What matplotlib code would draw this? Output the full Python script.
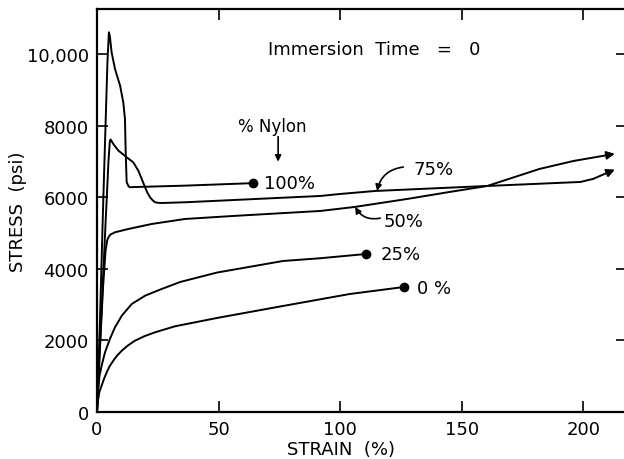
import matplotlib.pyplot as plt

# stress-strain curves (strain %, stress psi)
strain_100 = [0, 1.2, 2.2, 2.6, 3.5, 4.3, 4.9, 5.3, 6.0, 7.4, 9.5, 10.8, 11.5, 11.8, 12.2,
              13.0, 13.6, 15, 36, 64.2]
stress_100 = [0, 2500, 5000, 5958, 8000, 9800, 10620, 10500, 10062, 9594, 9127, 8662, 8195,
              7264, 6425, 6310, 6285, 6290, 6330, 6400]

strain_75 = [0, 1.5, 3.0, 3.6, 4.0, 4.7, 5.3, 5.6, 6.7, 8.8, 12.2, 14.9, 17.0, 18.4, 19.5,
             20.6, 21.8, 22.9, 23.9, 25.2, 26.6, 36.2, 91.8, 100, 114.4, 160.5, 198.8,
             204, 213]
stress_75 = [0, 2300, 4500, 5400, 5958, 7000, 7590, 7620, 7496, 7310, 7124, 6984, 6749,
             6517, 6330, 6150, 6005, 5920, 5865, 5850, 5845, 5865, 6041, 6097, 6181, 6321,
             6433, 6517, 6780]

strain_50 = [0, 1.0, 2.5, 3.5, 4.2, 4.7, 5.5, 7.4, 12.9, 22.5, 36.2, 56, 91.8, 106, 127.6,
             145, 160.5, 182, 196, 213]
stress_50 = [0, 1500, 3500, 4500, 4800, 4886, 4960, 5026, 5118, 5258, 5398, 5482, 5622,
             5734, 5958, 6153, 6321, 6797, 7020, 7220]

strain_25 = [0, 0.2, 0.5, 1.0, 1.9, 3.3, 5.3, 7.4, 10.2, 14.3, 19.8, 26.6, 34.2, 49.4,
             76.5, 91.8, 110.7]
stress_25 = [0, 250, 643, 1000, 1295, 1670, 2042, 2369, 2694, 3021, 3253, 3440, 3636,
             3900, 4223, 4300, 4419]

strain_0 = [0, 0.1, 0.5, 1.0, 1.9, 2.9, 4.0, 5.2, 6.7, 8.3, 10.2, 12.7, 15.6, 19.5, 23.9,
            32.1, 49.4, 76.5, 104, 126.3]
stress_0 = [0, 150, 364, 570, 736, 930, 1110, 1280, 1435, 1580, 1715, 1860, 1994, 2120,
            2229, 2397, 2630, 2965, 3300, 3496]

x_ticks = [0, 50, 100, 150, 200]
y_ticks = [0, 2000, 4000, 6000, 8000, 10000]
y_tick_labels = ['0', '2000', '4000', '6000', '8000', '10,000']

plt.rcParams['font.family'] = ['DejaVu Sans']

fig = plt.figure(figsize=(6.24, 4.60), dpi=100)
ax = fig.add_axes([97 / 624, 47 / 460, 530 / 624, 403 / 460])

lw = 1.4
ax.plot(strain_100, stress_100, color='black', lw=lw)
ax.plot(strain_75[:-1], stress_75[:-1], color='black', lw=lw)
ax.plot(strain_50[:-1], stress_50[:-1], color='black', lw=lw)
ax.plot(strain_25, stress_25, color='black', lw=lw)
ax.plot(strain_0, stress_0, color='black', lw=lw)

# end dots
for xs, ys in [(strain_100, stress_100), (strain_25, stress_25), (strain_0, stress_0)]:
    ax.plot(xs[-1], ys[-1], 'o', color='black', ms=6)

# arrowheads at the end of the 75% and 50% curves
for xs, ys in [(strain_75, stress_75), (strain_50, stress_50)]:
    ax.annotate('', xy=(xs[-1], ys[-1]), xytext=(xs[-2], ys[-2]),
                arrowprops=dict(arrowstyle='-|>', color='black', lw=lw,
                                mutation_scale=12, shrinkA=0, shrinkB=0))

fs = 13
ax.text(114, 10150, 'Immersion  Time   =   0', fontsize=fs, ha='center', va='center')
ax.text(72, 8000, '% Nylon', fontsize=12, ha='center', va='center')
ax.annotate('', xy=(74.5, 7000), xytext=(74.5, 7700),
            arrowprops=dict(arrowstyle='-|>', color='black', lw=1.2, mutation_scale=9,
                            shrinkA=0, shrinkB=0))
ax.text(68.5, 6400, '100%', fontsize=fs, ha='left', va='center')
ax.text(130, 6800, '75%', fontsize=fs, ha='left', va='center')
ax.annotate('', xy=(115.2, 6181), xytext=(126, 6850),
            arrowprops=dict(arrowstyle='-|>', color='black', lw=1.2, mutation_scale=9,
                            shrinkA=0, shrinkB=0, connectionstyle='arc3,rad=0.35'))
ax.text(118, 5340, '50%', fontsize=fs, ha='left', va='center')
ax.annotate('', xy=(106.2, 5734), xytext=(116.5, 5420),
            arrowprops=dict(arrowstyle='-|>', color='black', lw=1.2, mutation_scale=9,
                            shrinkA=0, shrinkB=0, connectionstyle='arc3,rad=-0.35'))
ax.text(116.5, 4419, '25%', fontsize=fs, ha='left', va='center')
ax.text(131.5, 3480, '0 %', fontsize=fs, ha='left', va='center')

ax.set_xlim(0, 218)
ax.set_ylim(0, 11270)
ax.set_xticks(x_ticks)
ax.set_yticks(y_ticks)
ax.set_yticklabels(y_tick_labels)
ax.tick_params(direction='in', length=8, width=1.2, labelsize=fs,
               top=True, right=True, pad=6)
for s in ax.spines.values():
    s.set_linewidth(1.6)

ax.set_ylabel('STRESS  (psi)', fontsize=fs)
ax.yaxis.set_label_coords(-70 / 530, 0.5)
fig.text(341 / 624, 1 - 450 / 460, 'STRAIN  (%)', fontsize=fs, ha='center', va='center')

fig.savefig('out.png', dpi=100)
